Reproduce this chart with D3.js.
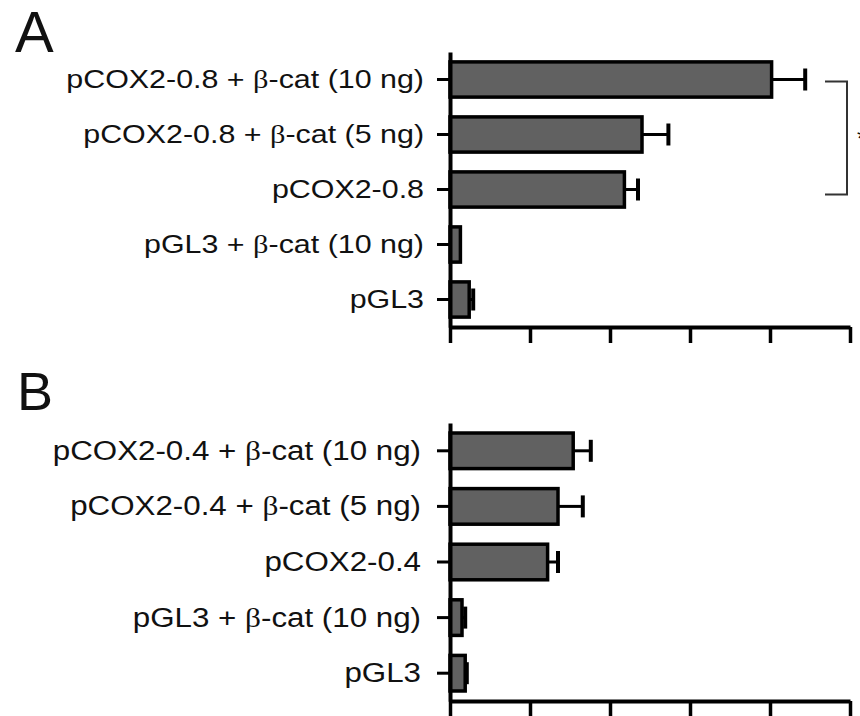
<!DOCTYPE html>
<html>
<head>
<meta charset="utf-8">
<script src="https://cdn.jsdelivr.net/npm/d3@7"></script>
<style>
  body { margin: 0; background: #fff; }
  svg { display: block; }
  text { font-family: "Liberation Sans", Arial, sans-serif; fill: #111; }
</style>
</head>
<body>
<script>
// panel A: pCOX2-0.8 reporter
var catsA = ["pCOX2-0.8 + β-cat (10 ng)", "pCOX2-0.8 + β-cat (5 ng)", "pCOX2-0.8", "pGL3 + β-cat (10 ng)", "pGL3"];
var valsA = [4.02, 2.40, 2.18, 0.13, 0.24];
var errsA = [0.42, 0.33, 0.17, 0, 0.05];

// panel B: pCOX2-0.4 reporter
var catsB = ["pCOX2-0.4 + β-cat (10 ng)", "pCOX2-0.4 + β-cat (5 ng)", "pCOX2-0.4", "pGL3 + β-cat (10 ng)", "pGL3"];
var valsB = [1.54, 1.35, 1.22, 0.15, 0.19];
var errsB = [0.22, 0.31, 0.13, 0.04, 0.02];

var xTicks = [0, 1, 2, 3, 4, 5];

var W = 860, H = 716;
var svg = d3.select("body").append("svg").attr("width", W).attr("height", H);

var x = d3.scaleLinear().domain([0, 5]).range([450, 850]);

// labels in the figure are stretched sideways, sx = horizontal stretch
function panel(letter, letterPos, letterSize, cats, vals, errs, top, bottom, labelEnd, fontSize, sx) {
	var g = svg.append("g");
	var y = d3.scaleBand().domain(cats).range([top, bottom]).paddingInner(0.36).paddingOuter(0.18);

	g.append("text").attr("x", letterPos[0]).attr("y", letterPos[1])
		.style("font-size", letterSize + "px").text(letter);

	// bars
	g.selectAll("rect.bar").data(cats).enter().append("rect")
		.attr("class", "bar")
		.attr("x", x(0))
		.attr("y", function(d){ return y(d); })
		.attr("width", function(d, i){ return x(vals[i]) - x(0); })
		.attr("height", y.bandwidth())
		.attr("fill", "#616161").attr("stroke", "#000").attr("stroke-width", 3.5);

	// error bars (one sided)
	var eb = g.selectAll("g.err").data(cats).enter().append("g").attr("class", "err")
		.filter(function(d, i){ return errs[i] > 0; });
	eb.append("line")
		.attr("x1", function(d){ return x(vals[cats.indexOf(d)]); })
		.attr("x2", function(d){ var i = cats.indexOf(d); return x(vals[i] + errs[i]); })
		.attr("y1", function(d){ return y(d) + y.bandwidth() / 2; })
		.attr("y2", function(d){ return y(d) + y.bandwidth() / 2; })
		.attr("stroke", "#000").attr("stroke-width", 3);
	eb.append("line")
		.attr("x1", function(d){ var i = cats.indexOf(d); return x(vals[i] + errs[i]); })
		.attr("x2", function(d){ var i = cats.indexOf(d); return x(vals[i] + errs[i]); })
		.attr("y1", function(d){ return y(d) + y.bandwidth() / 2 - 11; })
		.attr("y2", function(d){ return y(d) + y.bandwidth() / 2 + 11; })
		.attr("stroke", "#000").attr("stroke-width", 4);

	// y axis
	var ya = g.append("g").attr("transform", "translate(" + x(0) + ",0)")
		.call(d3.axisLeft(y).tickSize(13).tickSizeOuter(0));
	ya.select(".domain").attr("stroke", "#000").attr("stroke-width", 4);
	ya.selectAll(".tick line").attr("stroke", "#000").attr("stroke-width", 3);
	ya.selectAll(".tick text").each(function(d){
		var t = d3.select(this).text("")
			.attr("x", -(x(0) - labelEnd) / sx).attr("dy", "0.33em")
			.attr("transform", "scale(" + sx + ",1)")
			.style("font-size", fontSize + "px").attr("fill", "#111");
		var parts = d.split("β");
		t.append("tspan").text(parts[0]);
		if (parts.length > 1) {
			t.append("tspan").style("font-family", "'Liberation Serif', serif").text("β");
			t.append("tspan").text(parts[1]);
		}
	});

	// x axis, unlabeled ticks
	var xa = g.append("g").attr("transform", "translate(0," + bottom + ")")
		.call(d3.axisBottom(x).tickValues(xTicks).tickSize(16).tickSizeOuter(0).tickFormat(""));
	xa.select(".domain").attr("stroke", "#000").attr("stroke-width", 4);
	xa.selectAll(".tick line").attr("stroke", "#000").attr("stroke-width", 3.5);
	return y;
}

var yA = panel("A", [15, 52], 58, catsA, valsA, errsA, 52, 327, 424, 26, 1.17);
panel("B", [17, 410], 54, catsB, valsB, errsB, 423, 701, 421, 27, 1.16);

// significance bracket over the pCOX2-0.8 bars (cut off at the right edge)
var by1 = yA(catsA[0]) + yA.bandwidth() / 2 + 2, by2 = yA(catsA[2]) + yA.bandwidth() / 2 + 5;
svg.append("path")
	.attr("d", "M825," + by1 + "H847V" + by2 + "H825")
	.attr("fill", "none").attr("stroke", "#333").attr("stroke-width", 2);
svg.append("text").attr("x", 857).attr("y", (by1 + by2) / 2 + 9)
	.style("font-size", "24px").text("*");
</script>
</body>
</html>
